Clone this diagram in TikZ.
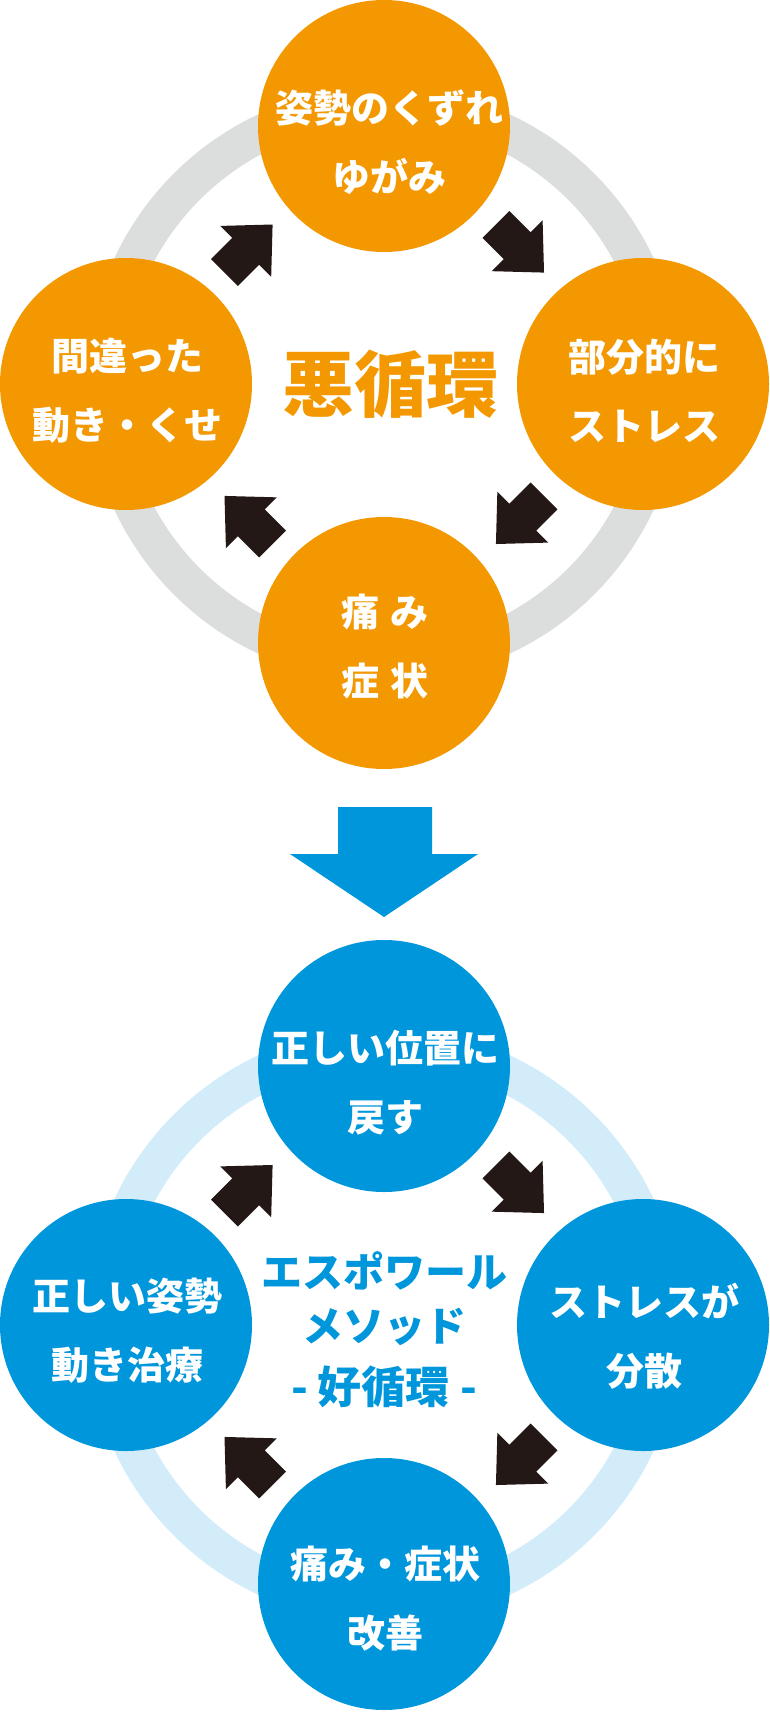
\documentclass[tikz,border=0pt]{standalone}
\usepackage{fontspec}
\setmainfont{Noto Sans CJK JP}
\usetikzlibrary{calc}
\usepackage{xcolor}
\definecolor{cycleorange}{RGB}{243,152,0}
\definecolor{cycleblue}{RGB}{0,150,219}
\definecolor{ringgray}{RGB}{220,221,221}
\definecolor{ringblue}{RGB}{211,236,249}
\definecolor{arrowblack}{RGB}{35,24,21}

\begin{document}
\begin{tikzpicture}[x=1pt, y=-1pt,
  badcircle/.style={circle, fill=cycleorange, minimum size=252pt, inner sep=0pt},
  goodcircle/.style={circle, fill=cycleblue, minimum size=252pt, inner sep=0pt},
  circtext/.style={text=white, align=center, inner sep=0pt,
    font=\bfseries\fontsize{38}{69}\selectfont},
  arrowfill/.style={fill=arrowblack}]
  \useasboundingbox (0,0) rectangle (769,1712);

  % ---- Block arrow macro (prefix, from, to, angle) ----
  \def\cyclearrow#1#2#3#4{
    \coordinate (#1-mid) at ($(#1-#2)!0.5!(#1-#3)$);
    \fill[arrowfill, shift={($(#1-hub)!1.05!(#1-mid)$)}, rotate=#4]
      (34,0) -- (-4,36) -- (-4,19) -- (-34,19) -- (-34,-19) -- (-4,-19) -- (-4,-36) -- cycle;
  }

  % ---- Vicious cycle (orange) ----
  \coordinate (bad-hub) at (384,384);
  \draw[ringgray, line width=37pt] (bad-hub) circle[radius=279pt];
  \node[badcircle] (bad-top) at (384,126) {};
  \node[badcircle] (bad-right) at (643,384) {};
  \node[badcircle] (bad-bottom) at (384,643) {};
  \node[badcircle] (bad-left) at (126,384) {};
  \node[circtext] (bad-top-text) at (389,142) {姿勢のくずれ\\ゆがみ};
  \node[circtext] (bad-right-text) at (644,391) {部分的に\\ストレス};
  \node[circtext] (bad-bottom-text) at (385,647) {痛\hspace{12pt}み\\症\hspace{12pt}状};
  \node[circtext] (bad-left-text) at (127,391) {間違った\\動き・くせ};
  \node[text=cycleorange, font=\bfseries\fontsize{72}{72}\selectfont, inner sep=0pt]
    (bad-title) at (390,384) {悪循環};
  \foreach \a/\b/\r in {top/right/-45, right/bottom/-135, bottom/left/135, left/top/45}
    {\cyclearrow{bad}{\a}{\b}{\r}}

  % ---- Transition arrow ----
  \fill[cycleblue] (338,807) -- (432,807) -- (432,854) -- (478,854) -- (384,917)
    -- (290,854) -- (338,854) -- cycle;

  % ---- Virtuous cycle (blue) ----
  \coordinate (good-hub) at (384,1325);
  \draw[ringblue, line width=37pt] (good-hub) circle[radius=279pt];
  \node[goodcircle] (good-top) at (384,1066) {};
  \node[goodcircle] (good-right) at (643,1325) {};
  \node[goodcircle] (good-bottom) at (384,1584) {};
  \node[goodcircle] (good-left) at (126,1325) {};
  \node[circtext] (good-top-text) at (385,1083) {正しい位置に\\戻す};
  \node[circtext] (good-right-text) at (644,1336) {ストレスが\\分散};
  \node[circtext] (good-bottom-text) at (385,1599) {痛み・症状\\改善};
  \node[circtext] (good-left-text) at (127,1331) {正しい姿勢\\動き治療};
  \node[text=cycleblue, align=center, inner sep=0pt,
    font=\bfseries\fontsize{41}{54}\selectfont]
    (good-title) at (384,1330) {エスポワール\\メソッド\\[8pt]{\fontsize{44}{44}\selectfont - 好循環 -}};
  \foreach \a/\b/\r in {top/right/-45, right/bottom/-135, bottom/left/135, left/top/45}
    {\cyclearrow{good}{\a}{\b}{\r}}

\end{tikzpicture}
\end{document}
